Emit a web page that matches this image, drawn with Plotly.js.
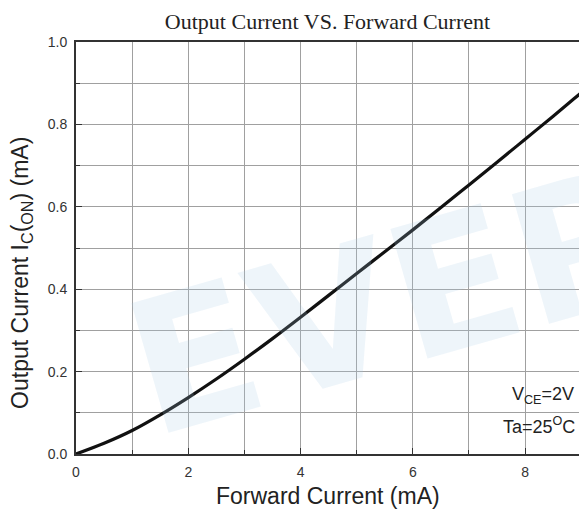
<!DOCTYPE html>
<html>
<head>
<meta charset="utf-8">
<script src="https://cdn.plot.ly/plotly-3.0.1.min.js"></script>
<style>html,body{margin:0;padding:0;background:#fff;}#chart{width:579px;height:517px;}</style>
</head>
<body>
<div id="chart"></div>
<script>
var forwardCurrent = [0, 0.5, 1, 1.5, 2, 2.5, 3, 3.5, 4, 4.5, 5, 5.5, 6, 6.5, 7, 7.5, 8, 8.5, 9, 9.5];
var outputCurrent = [0, 0.026, 0.057, 0.095, 0.137, 0.182, 0.230, 0.280, 0.332, 0.385, 0.438, 0.491, 0.544, 0.598, 0.653, 0.708, 0.764, 0.820, 0.877, 0.934];
var xTickVals = [0, 2, 4, 6, 8];
var xTickText = ['0', '2', '4', '6', '8'];
var yTickVals = [0, 0.2, 0.4, 0.6, 0.8, 1.0];
var yTickText = ['0.0', '0.2', '0.4', '0.6', '0.8', '1.0'];

var trace = {
  x: forwardCurrent,
  y: outputCurrent,
  type: 'scatter',
  mode: 'lines',
  line: {color: '#111', width: 3.2, shape: 'spline', smoothing: 1},
  hoverinfo: 'skip'
};

var layout = {
  width: 579, height: 517,
  margin: {l: 76, r: 0, t: 42, b: 63},
  paper_bgcolor: '#fff', plot_bgcolor: '#fff',
  showlegend: false,
  title: {text: 'Output Current VS. Forward Current', font: {family: 'Liberation Serif', size: 22, color: '#222'}, x: 0.5, xref: 'paper', y: 0.958, yanchor: 'middle'},
  xaxis: {
    range: [0, 8.96], tickmode: 'array', tickvals: xTickVals, ticktext: xTickText,
    ticks: 'inside', ticklen: 6, tickcolor: '#333', tickwidth: 1, ticklabelstandoff: 4,
    showline: true, linecolor: '#333', linewidth: 2, mirror: true,
    showgrid: true, gridcolor: '#a0a0a0', gridwidth: 1, zeroline: false,
    minor: {dtick: 1, showgrid: true, gridcolor: '#a0a0a0', gridwidth: 1, ticks: 'inside', ticklen: 4, tickcolor: '#333'},
    tickfont: {family: 'Liberation Sans', size: 14, color: '#333'}
  },
  yaxis: {
    range: [0, 1.0], tickmode: 'array', tickvals: yTickVals, ticktext: yTickText,
    ticks: 'inside', ticklen: 6, tickcolor: '#333', tickwidth: 1, ticklabelstandoff: 4,
    showline: true, linecolor: '#333', linewidth: 2, mirror: true,
    showgrid: true, gridcolor: '#a0a0a0', gridwidth: 1, zeroline: false,
    minor: {dtick: 0.1, showgrid: true, gridcolor: '#a0a0a0', gridwidth: 1, ticks: 'inside', ticklen: 4, tickcolor: '#333'},
    tickfont: {family: 'Liberation Sans', size: 14, color: '#333'}
  },
  annotations: [
    {text: 'EVER', xref: 'paper', yref: 'paper', x: 0.63, y: 0.37, showarrow: false,
     textangle: -16, font: {family: 'DejaVu Sans', size: 185, color: 'rgba(170,205,232,0.2)', weight: 'bold'}},
    {text: 'Forward Current (mA)', xref: 'paper', yref: 'paper', x: 0.5, y: -0.102, xanchor: 'center', yanchor: 'middle', showarrow: false,
     font: {family: 'Liberation Sans', size: 23, color: '#222'}},
    {text: 'Output Current I<sub>C</sub>(<sub>ON</sub>) (mA)', xref: 'paper', yref: 'paper', x: -0.107, y: 0.44, xanchor: 'center', yanchor: 'middle', textangle: -90, showarrow: false,
     font: {family: 'Liberation Sans', size: 23, color: '#222'}},
    {text: 'V<sub>CE</sub>=2V', xref: 'paper', yref: 'paper', x: 0.994, y: 0.143, xanchor: 'right', yanchor: 'middle', showarrow: false,
     font: {family: 'Liberation Sans', size: 18, color: '#222'}},
    {text: 'Ta=25<sup>O</sup>C', xref: 'paper', yref: 'paper', x: 0.996, y: 0.07, xanchor: 'right', yanchor: 'middle', showarrow: false,
     font: {family: 'Liberation Sans', size: 18, color: '#222'}}
  ]
};

Plotly.newPlot('chart', [trace], layout, {displayModeBar: false, staticPlot: true});
</script>
</body>
</html>
